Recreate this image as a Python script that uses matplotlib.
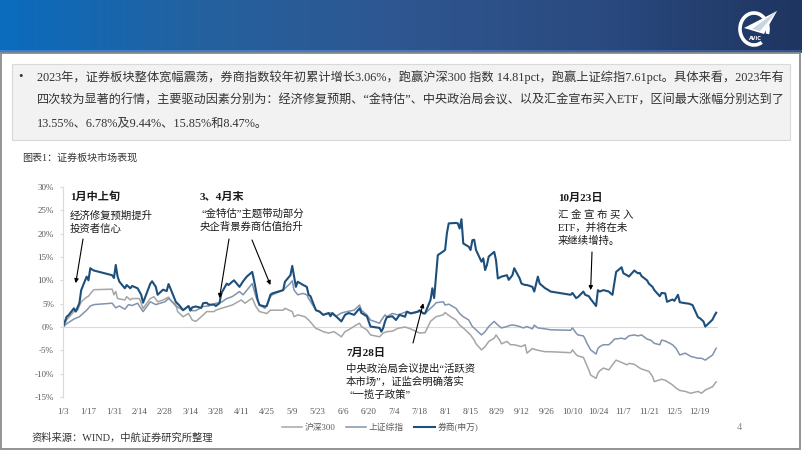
import matplotlib
matplotlib.use("Agg")
import numpy as np
import pandas as pd
import matplotlib.pyplot as plt
from matplotlib.colors import LinearSegmentedColormap
from matplotlib.patches import Rectangle, Arc, Polygon

plt.rcParams['font.family'] = ['Liberation Serif', 'Noto Sans CJK SC', 'DejaVu Sans']

# ---- data (cumulative % change since 2023-01-03) ----
broker_dates = [
    "01-03", "01-05", "01-06", "01-09", "01-10", "01-12", "01-13", "01-16", "01-17", "01-18",
    "01-19", "01-20", "01-30", "01-31", "02-01", "02-02", "02-03", "02-06", "02-07", "02-09",
    "02-10", "02-13", "02-15", "02-16", "02-20", "02-21", "02-23", "02-24", "02-27", "03-01",
    "03-02", "03-03", "03-06", "03-08", "03-10", "03-13", "03-14", "03-15", "03-17", "03-20",
    "03-21", "03-23", "03-24", "03-27", "03-28", "03-30", "03-31", "04-03", "04-04", "04-06",
    "04-07", "04-10", "04-12", "04-14", "04-17", "04-18", "04-20", "04-21", "04-24", "04-25",
    "04-27", "04-28", "05-04", "05-05", "05-08", "05-09", "05-10", "05-11", "05-12", "05-15",
    "05-17", "05-18", "05-19", "05-22", "05-24", "05-26", "05-29", "05-30", "05-31", "06-02",
    "06-05", "06-07", "06-09", "06-12", "06-15", "06-16", "06-19", "06-20", "06-21", "06-26",
    "06-27", "06-28", "06-29", "06-30", "07-03", "07-05", "07-07", "07-10", "07-11", "07-13",
    "07-17", "07-18", "07-20", "07-21", "07-24", "07-25", "07-26", "07-27", "07-28", "07-31",
    "08-01", "08-02", "08-03", "08-07", "08-08", "08-09", "08-10", "08-11", "08-14", "08-15",
    "08-16", "08-17", "08-18", "08-21", "08-22", "08-23", "08-24", "08-25", "08-28", "08-29",
    "08-30", "09-01", "09-04", "09-05", "09-07", "09-08", "09-11", "09-12", "09-14", "09-15",
    "09-18", "09-19", "09-21", "09-22", "09-25", "09-26", "09-28", "10-09", "10-10", "10-12",
    "10-13", "10-16", "10-17", "10-19", "10-20", "10-23", "10-24", "10-25", "10-27", "10-30",
    "10-31", "11-01", "11-02", "11-03", "11-06", "11-07", "11-09", "11-10", "11-13", "11-14",
    "11-15", "11-16", "11-17", "11-20", "11-21", "11-23", "11-24", "11-27", "11-28", "11-30",
    "12-01", "12-04", "12-05", "12-07", "12-08", "12-11", "12-13", "12-15", "12-18", "12-19",
    "12-21", "12-22", "12-25", "12-26", "12-27", "12-28",
]
broker_pct = [
    0.0, 2.2, 2.5, 4.0, 3.3, 5.1, 7.9, 10.8, 10.0, 12.6,
    12.3, 12.1, 11.1, 10.5, 13.3, 10.8, 9.7, 8.3, 9.0, 8.3,
    8.8, 8.3, 6.9, 5.2, 9.3, 9.8, 8.6, 6.9, 8.0, 7.7,
    9.2, 8.3, 5.4, 4.6, 3.6, 4.5, 3.5, 4.2, 4.4, 4.1,
    5.1, 5.2, 4.8, 4.8, 4.5, 5.1, 7.2, 9.3, 9.0, 9.7,
    10.0, 8.6, 9.8, 10.8, 11.8, 10.0, 5.8, 4.7, 4.4, 4.5,
    6.9, 7.2, 7.9, 9.7, 11.1, 13.1, 10.8, 8.6, 9.7, 9.0,
    8.6, 6.9, 6.6, 3.6, 3.3, 2.6, 3.0, 2.3, 3.0, 2.3,
    1.2, 2.6, 3.0, 2.6, 4.0, 3.0, 2.3, 1.2, 0.1, -0.2,
    -1.0, -0.2, 1.2, 2.1, 2.3, 1.5, 2.6, 2.2, 3.3, 2.9,
    3.3, 3.6, 2.9, 2.9, 5.8, 8.3, 6.2, 10.8, 15.4, 16.2,
    16.5, 20.1, 22.2, 22.3, 22.2, 21.1, 23.1, 17.9, 17.2, 16.5,
    18.6, 18.7, 16.5, 14.0, 14.7, 12.2, 13.3, 15.1, 16.1, 14.3,
    10.4, 10.8, 11.1, 10.1, 11.1, 12.6, 10.4, 9.3, 9.0, 9.0,
    8.6, 7.6, 10.8, 9.3, 8.3, 8.1, 7.6, 6.9, 7.3, 6.2,
    6.4, 7.6, 6.9, 6.6, 6.0, 4.5, 7.9, 7.6, 7.9, 7.6,
    7.2, 6.9, 9.3, 11.8, 12.8, 11.5, 11.1, 10.8, 12.1, 11.8,
    11.5, 11.6, 10.9, 10.0, 9.3, 8.6, 7.9, 6.6, 7.3, 7.2,
    5.4, 5.9, 5.6, 6.9, 5.3, 5.1, 5.0, 4.7, 2.1, 1.9,
    1.2, 0.1, 1.2, 1.6, 2.4, 3.06,
]

sse_dates = [
    "01-03", "01-05", "01-09", "01-12", "01-16", "01-18", "01-20", "01-30", "02-01", "02-03",
    "02-06", "02-08", "02-10", "02-13", "02-16", "02-20", "02-23", "02-28", "03-02", "03-03",
    "03-06", "03-10", "03-13", "03-15", "03-17", "03-21", "03-24", "03-28", "03-31", "04-03",
    "04-06", "04-10", "04-12", "04-17", "04-19", "04-21", "04-24", "04-25", "04-27", "04-28",
    "05-04", "05-08", "05-09", "05-10", "05-12", "05-15", "05-17", "05-18", "05-22", "05-24",
    "05-26", "05-30", "06-02", "06-05", "06-08", "06-12", "06-15", "06-16", "06-19", "06-21",
    "06-26", "06-27", "06-29", "06-30", "07-03", "07-06", "07-11", "07-14", "07-18", "07-21",
    "07-24", "07-26", "07-27", "07-31", "08-01", "08-03", "08-07", "08-09", "08-11", "08-14",
    "08-16", "08-18", "08-21", "08-23", "08-25", "08-28", "08-30", "09-01", "09-04", "09-06",
    "09-08", "09-11", "09-13", "09-15", "09-18", "09-19", "09-21", "09-25", "09-28", "10-09",
    "10-10", "10-12", "10-13", "10-16", "10-17", "10-18", "10-19", "10-20", "10-23", "10-24",
    "10-25", "10-27", "10-30", "11-01", "11-02", "11-06", "11-08", "11-10", "11-13", "11-15",
    "11-17", "11-20", "11-22", "11-24", "11-27", "11-28", "11-30", "12-04", "12-06", "12-08",
    "12-11", "12-14", "12-18", "12-20", "12-22", "12-26", "12-28",
]
sse_pct = [
    0.0, 0.7, 1.7, 2.2, 3.6, 4.5, 4.8, 5.1, 4.1, 4.5,
    3.8, 4.8, 4.6, 5.1, 3.3, 5.4, 4.8, 5.4, 6.1, 5.8,
    4.5, 3.6, 4.5, 3.5, 3.5, 4.4, 4.5, 5.1, 5.3, 6.1,
    6.5, 7.6, 6.9, 9.3, 6.5, 4.7, 4.0, 4.7, 6.5, 6.9,
    7.9, 9.4, 9.9, 7.9, 6.9, 7.2, 6.9, 6.1, 3.6, 3.3,
    2.6, 3.0, 2.3, 3.0, 3.3, 3.6, 4.7, 3.6, 2.6, 1.5,
    0.8, 1.5, 2.6, 2.2, 2.9, 2.6, 3.3, 2.9, 3.3, 2.9,
    4.0, 4.7, 5.2, 5.4, 4.7, 4.9, 4.0, 2.9, 2.2, 1.5,
    0.1, -0.6, -1.7, -1.0, 0.1, 1.2, 0.4, -0.2, 0.1, 0.4,
    0.4, 0.1, -0.2, 0.1, -0.4, 0.4, -0.2, -0.4, -0.6, -0.7,
    -0.2, -1.3, -1.7, -1.9, -2.6, -3.5, -4.2, -4.9, -5.8, -4.6,
    -4.2, -3.8, -3.8, -3.1, -2.6, -2.4, -2.6, -1.9, -1.7, -1.9,
    -1.7, -2.6, -2.8, -3.5, -3.8, -2.8, -3.0, -3.8, -4.6, -6.0,
    -5.6, -6.3, -6.7, -6.7, -7.1, -6.0, -4.55,
]

hs300_dates = [
    "01-03", "01-05", "01-09", "01-11", "01-13", "01-16", "01-17", "01-19", "01-20", "01-30",
    "01-31", "02-01", "02-02", "02-06", "02-07", "02-09", "02-10", "02-14", "02-16", "02-20",
    "02-22", "02-24", "02-27", "03-02", "03-03", "03-06", "03-07", "03-10", "03-13", "03-15",
    "03-17", "03-20", "03-23", "03-27", "03-28", "03-31", "04-06", "04-11", "04-13", "04-17",
    "04-19", "04-21", "04-25", "04-27", "05-04", "05-05", "05-09", "05-10", "05-12", "05-16",
    "05-18", "05-22", "05-24", "05-26", "05-29", "06-01", "06-05", "06-07", "06-09", "06-13",
    "06-15", "06-16", "06-19", "06-21", "06-26", "06-28", "06-30", "07-03", "07-06", "07-10",
    "07-13", "07-18", "07-21", "07-24", "07-27", "07-31", "08-01", "08-04", "08-07", "08-09",
    "08-11", "08-15", "08-17", "08-18", "08-21", "08-23", "08-25", "08-28", "08-29", "08-31",
    "09-01", "09-04", "09-06", "09-08", "09-12", "09-14", "09-15", "09-18", "09-20", "09-25",
    "09-28", "10-09", "10-10", "10-12", "10-13", "10-16", "10-17", "10-18", "10-19", "10-20",
    "10-23", "10-24", "10-25", "10-27", "10-30", "11-01", "11-03", "11-06", "11-09", "11-10",
    "11-13", "11-16", "11-17", "11-21", "11-23", "11-24", "11-28", "11-30", "12-04", "12-06",
    "12-08", "12-11", "12-14", "12-18", "12-20", "12-22", "12-26", "12-28",
]
hs300_pct = [
    0.0, 1.5, 3.3, 3.6, 5.4, 6.4, 6.6, 7.6, 8.0, 8.1,
    6.9, 7.6, 6.1, 5.8, 6.5, 5.8, 6.1, 6.1, 4.0, 6.1,
    6.5, 5.4, 5.8, 6.4, 5.8, 4.8, 3.3, 2.2, 2.9, 1.5,
    1.2, 2.2, 3.3, 3.3, 3.6, 4.0, 4.7, 5.8, 5.1, 6.2,
    4.4, 3.3, 2.9, 3.6, 3.6, 4.0, 3.3, 2.2, 2.6, 2.2,
    1.5, -0.3, -0.6, -1.0, -1.3, -1.0, -2.1, -1.0, -0.6, 0.4,
    0.8, 0.1, -0.6, -1.7, -2.1, -1.3, -1.0, -0.9, -0.3, 0.0,
    -0.4, -1.3, -1.2, 1.2, 2.2, 2.6, 3.1, 2.2, 1.5, 0.4,
    -0.2, -1.7, -2.8, -3.6, -4.9, -4.2, -3.1, -2.4, -1.7, -2.8,
    -3.6, -3.1, -3.8, -3.8, -4.2, -3.8, -5.6, -4.6, -4.9, -5.3,
    -5.3, -5.5, -4.9, -5.9, -6.2, -6.5, -7.4, -8.3, -9.2, -10.3,
    -11.0, -9.9, -9.4, -8.8, -9.2, -8.1, -7.1, -7.6, -8.1, -7.8,
    -8.0, -8.8, -9.0, -9.5, -10.6, -11.7, -11.2, -11.4, -12.4, -13.1,
    -13.6, -13.8, -14.2, -13.8, -14.2, -13.5, -12.8, -11.75,
]

series_names = ["沪深300", "上证综指", "券商(申万)"]
series_colors = ["#a5a5a5", "#8193ad", "#1d4f7a"]

y_ticks = [-15, -10, -5, 0, 5, 10, 15, 20, 25, 30]
tick_dates = pd.date_range("2023-01-03", "2023-12-29", freq="14D")


def to_dt(days):
    return pd.to_datetime(["2023-" + d for d in days])


# ---- figure ----
fig = plt.figure(figsize=(8.02, 4.51), dpi=100)
bg = fig.add_axes([0, 0, 1, 1], zorder=0)

grad = np.linspace(0, 1, 256).reshape(1, -1)
hdr = LinearSegmentedColormap.from_list("hdr", ["#0b6cbe", "#24619f", "#2f5690", "#2a4a80", "#1f3560"])
strip = LinearSegmentedColormap.from_list("strip", ["#3a82cc", "#4c78b8", "#35558c"])
bg.imshow(grad, cmap=hdr, extent=[0, 802, 50, 0], aspect="auto")
bg.imshow(grad, cmap=strip, extent=[0, 802, 53, 50], aspect="auto")
bg.set_xlim(0, 802)
bg.set_ylim(451, 0)
bg.axis("off")

# logo
bg.add_patch(Arc((754, 29), 28, 32, theta1=60, theta2=380, color="white", lw=2.6))
bg.add_patch(Polygon([[744, 28], [777, 11], [764, 34]], closed=True, fc="white", ec="none"))
bg.add_patch(Polygon([[752, 29], [777, 11], [760, 31]], closed=True, fc="#c8d3e3", ec="none"))
bg.text(755, 38, "AVIC", color="white", fontsize=3.6, ha="center", va="center", fontweight="bold",
        family="DejaVu Sans")

# slide frame
bg.add_patch(Rectangle((1, 53), 799, 396, fill=False, ec="#8a8a8a", lw=1.3))

# summary box
bg.add_patch(Rectangle((12, 64), 778, 76, fc="#f2f2f2", ec="#d9d9d9", lw=0.8))
bg.text(18, 77, "•", fontsize=9, color="#333333", va="center")
summary = [
    "2023年，证券板块整体宽幅震荡，券商指数较年初累计增长3.06%，跑赢沪深300 指数 14.81pct，跑赢上证综指7.61pct。具体来看，2023年有",
    "四次较为显著的行情，主要驱动因素分别为：经济修复预期、“金特估”、中央政治局会议、以及汇金宣布买入ETF，区间最大涨幅分别达到了",
    "13.55%、6.78%及9.44%、15.85%和8.47%。",
]
for line, yy, fs in zip(summary, [77, 101, 124], [8.8, 8.7, 8.8]):
    bg.text(37, yy, line, fontsize=fs, color="#333333", va="center")

bg.text(22, 158, "图表1：证券板块市场表现", fontsize=7.2, color="#333333", va="center")
bg.text(32, 438, "资料来源：WIND，中航证券研究所整理", fontsize=7.4, color="#333333", va="center")
bg.text(737, 428, "4", fontsize=7.5, color="#8c8c8c", va="center")

# ---- chart ----
ax = fig.add_axes([63 / 802, 1 - 397 / 451, 655 / 802, 210 / 451], zorder=1)
ax.patch.set_alpha(0)
series = [(hs300_dates, hs300_pct), (sse_dates, sse_pct), (broker_dates, broker_pct)]
widths = [1.1, 1.1, 1.5]
for (d, v), name, c, w in zip(series, series_names, series_colors, widths):
    ax.plot(to_dt(d), v, color=c, lw=w, label=name)

ax.set_xlim(pd.Timestamp("2023-01-03"), pd.Timestamp("2023-12-29"))
ax.set_ylim(-15, 30)
ax.axhline(0, color="#d9d9d9", lw=0.8, zorder=0)
for s in ["top", "right", "bottom"]:
    ax.spines[s].set_visible(False)
ax.spines["left"].set_color("#d9d9d9")
ax.spines["left"].set_linewidth(0.8)
ax.set_yticks(y_ticks)
ax.set_yticklabels([f"{t}%" for t in y_ticks])
ax.set_xticks(tick_dates)
ax.set_xticklabels([f"{t.month}/{t.day}" for t in tick_dates])
ax.tick_params(axis="y", length=2.5, color="#d9d9d9", labelsize=6.5, labelcolor="#595959", pad=4)
ax.tick_params(axis="x", length=0, labelsize=6.5, labelcolor="#595959", pad=8)

fig.legend(loc="center", bbox_to_anchor=(380 / 802, 1 - 427 / 451), ncol=3, frameon=False,
           fontsize=6.3, handlelength=2.3, columnspacing=1.2, handletextpad=0.3,
           labelcolor="#595959")

# ---- annotations ----
note_kw = dict(fontsize=7.5, color="#1a1a1a", va="center")
bold_kw = dict(fontsize=8, color="#1a1a1a", va="center", fontweight="bold")
arrow = dict(arrowstyle="-|>", color="black", lw=0.8, mutation_scale=6, shrinkA=0, shrinkB=0)

bg.text(70, 197, "1月中上旬", **bold_kw)
bg.text(70, 216, "经济修复预期提升", **note_kw)
bg.text(70, 229, "投资者信心", **note_kw)
ax.annotate("", xy=(pd.Timestamp("2023-01-10"), 9.4), xytext=(83, 239),
            textcoords=bg.transData, arrowprops=arrow)

bg.text(200, 197, "3、4月末", **bold_kw)
bg.text(201, 214, "“金特估”主题带动部分", **note_kw)
bg.text(200, 227, "央企背景券商估值抬升", **note_kw)
ax.annotate("", xy=(pd.Timestamp("2023-03-30"), 6.2), xytext=(229, 239),
            textcoords=bg.transData, arrowprops=arrow)
ax.annotate("", xy=(pd.Timestamp("2023-04-27"), 9.0), xytext=(252, 240),
            textcoords=bg.transData, arrowprops=arrow)

bg.text(346, 353, "7月28日", **bold_kw)
bg.text(346, 369, "中央政治局会议提出“活跃资", **note_kw)
bg.text(346, 382, "本市场”，证监会明确落实", **note_kw)
bg.text(350, 395, "“一揽子政策”", **note_kw)
ax.annotate("", xy=(pd.Timestamp("2023-07-20"), 5.1), xytext=(413, 343),
            textcoords=bg.transData, arrowprops=arrow)

bg.text(558, 198, "10月23日", **bold_kw)
bg.text(558, 215, "汇 金 宣 布 买 入", **note_kw)
bg.text(558, 228, "ETF，并将在未", **note_kw)
bg.text(558, 241, "来继续增持。", **note_kw)
ax.annotate("", xy=(pd.Timestamp("2023-10-20"), 7.9), xytext=(592, 252),
            textcoords=bg.transData, arrowprops=arrow)

fig.savefig("out.png", dpi=100)
